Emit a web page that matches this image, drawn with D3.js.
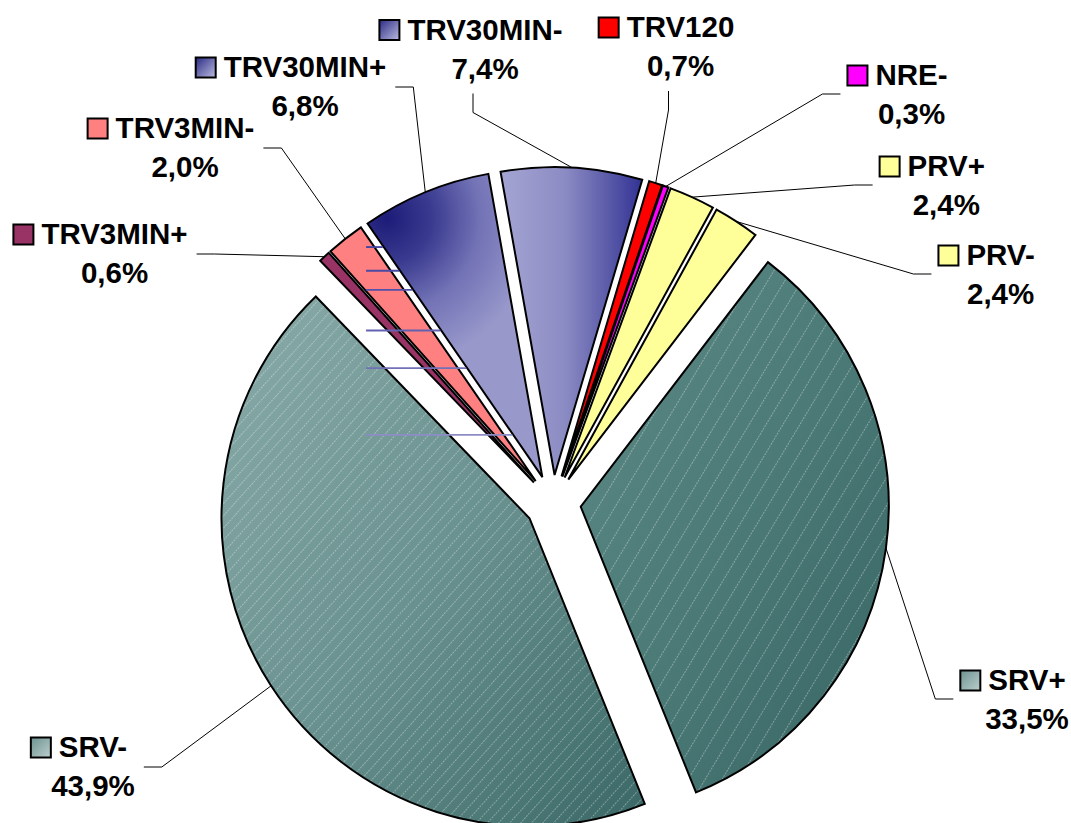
<!DOCTYPE html>
<html><head><meta charset="utf-8">
<script src="https://cdn.jsdelivr.net/npm/d3@7"></script>
<style>html,body{margin:0;padding:0;background:#fff;overflow:hidden}svg{display:block}</style>
</head><body>
<script>
// ---- data ----
const categories = ["TRV30MIN-","TRV120","NRE-","PRV+","PRV-","SRV+","SRV-","TRV3MIN+","TRV3MIN-","TRV30MIN+"];
const values = [7.4,0.7,0.3,2.4,2.4,33.5,43.9,0.6,2.0,6.8];
const valueLabels = ["7,4%","0,7%","0,3%","2,4%","2,4%","33,5%","43,9%","0,6%","2,0%","6,8%"];
// ---- styling / layout ----
const fills = ["url(#gTRVm)","#ff0000","#ff00ff","#ffff99","#ffff99","url(#gSRVp)","url(#gSRVm)","#993366","#ff8080","url(#gTRVp)"];
const keyFills = ["url(#kTRV)","#ff0000","#ff00ff","#ffff99","#ffff99","url(#kSRV)","url(#kSRV)","#993366","#ff8080","url(#kTRV)"];
const hatches = [null,null,null,null,null,"url(#hatchP)","url(#hatchM)",null,null,null];
const labelCx = [485, 680.5, 911.5, 946.3, 1000.6, 1027, 93, 114.5, 185, 305];
const labelBaseline = [39.5, 37, 85, 176, 265, 690, 757, 244, 138, 77];
const leaderSide = ["top","top","right","right","right","right","left","left","left","left"];
const artifactLevels = [-0.831,-0.754,-0.692,-0.560,-0.438,-0.221];

const W = 1071, H = 823;
const C = {x:553, y:503}, R = 308, EXPLODE = 28;
const startA = -10.1 * Math.PI / 180;

const svg = d3.select("body").append("svg").attr("width", W).attr("height", H);
const defs = svg.append("defs");

function lin(id, x1,y1,x2,y2, stops){
  const g = defs.append("linearGradient").attr("id", id)
    .attr("x1",x1).attr("y1",y1).attr("x2",x2).attr("y2",y2);
  stops.forEach(s => g.append("stop").attr("offset", s[0]).attr("stop-color", s[1]));
  return g;
}
lin("gTRVm", 0,0,1,0, [[0,"#a4a4d3"],[0.45,"#8c8cc4"],[0.75,"#5c5caa"],[1,"#323294"]]);
lin("gSRVm", 0,0,1,1, [[0,"#8aacaa"],[0.5,"#6a9290"],[1,"#3a6866"]]);
lin("gSRVp", 0,0,1,1, [[0,"#5e8a86"],[0.5,"#4b7a77"],[1,"#386563"]]);
lin("kTRV", 0,0,1,1, [[0,"#2a2a85"],[1,"#bcbce0"]]);
lin("kSRV", 0,0,1,1, [[0,"#6c9290"],[1,"#bccfce"]]);

function hatch(id, spacing, angle){
  const p = defs.append("pattern").attr("id", id).attr("patternUnits","userSpaceOnUse")
    .attr("width", spacing).attr("height", 6).attr("patternTransform", `rotate(${angle})`);
  p.append("line").attr("x1",0.5).attr("y1",0).attr("x2",0.5).attr("y2",6)
    .attr("stroke","#ffffff").attr("stroke-opacity",0.38).attr("stroke-width",0.9)
    .attr("stroke-dasharray","2 1");
}
hatch("hatchM", 8.2, 42);
hatch("hatchP", 14.5, 31);

// ---- pie ----
const pie = d3.pie().sort(null).value(d => d).startAngle(startA).endAngle(startA + 2*Math.PI);
const arcs = pie(values);
const arc = d3.arc().innerRadius(0).outerRadius(R);
arcs.forEach(a => {
  a.mid = (a.startAngle + a.endAngle) / 2;
  a.ox = C.x + EXPLODE * Math.sin(a.mid);
  a.oy = C.y - EXPLODE * Math.cos(a.mid);
});

// radial gradient for TRV30MIN+ (in the slice's local coordinates)
{
  const ang = 329 * Math.PI / 180;
  const g = defs.append("radialGradient").attr("id","gTRVp").attr("gradientUnits","userSpaceOnUse")
    .attr("cx", 0.98*R*Math.sin(ang)).attr("cy", -0.98*R*Math.cos(ang)).attr("r", 150);
  [[0,"#1c1c78"],[0.3,"#3a3a90"],[0.62,"#7272b6"],[1,"#9898cb"]]
    .forEach(s => g.append("stop").attr("offset", s[0]).attr("stop-color", s[1]));
}

const slices = svg.append("g").selectAll("g").data(arcs).join("g")
  .attr("transform", d => `translate(${d.ox},${d.oy})`);
slices.append("path").attr("d", arc).attr("fill", (d,i) => fills[i]);
slices.filter((d,i) => hatches[i]).append("path").attr("d", arc).attr("fill", (d) => hatches[d.index]);
slices.append("path").attr("d", arc).attr("fill","none")
  .attr("stroke","#000").attr("stroke-width",2).attr("stroke-linejoin","miter");

// thin rendering streaks seen left of TRV30MIN+
{
  const a = arcs[9];
  const dx = Math.sin(a.startAngle), dy = -Math.cos(a.startAngle);
  const col = d3.scaleLinear().domain([artifactLevels[0], artifactLevels[artifactLevels.length-1]])
    .range(["#4040a0","#8c8cc6"]);
  svg.append("g").selectAll("line").data(artifactLevels).join("line")
    .attr("x1", C.x - 0.607*R)
    .attr("y1", d => C.y + d*R).attr("y2", d => C.y + d*R)
    .attr("x2", d => { const y = C.y + d*R; const t = (y - a.oy)/dy; return a.ox + t*dx - 1; })
    .attr("stroke", d => col(d)).attr("stroke-width", 1.8);
}

// ---- labels ----
const FONT = "'Liberation Sans', Arial, sans-serif";
const lab = svg.append("g").attr("font-family", FONT).attr("font-weight","bold").attr("font-size", "29.5px").attr("fill","#000");
const leaders = svg.append("g").attr("fill","none").attr("stroke","#000").attr("stroke-width",1);

arcs.forEach((a, i) => {
  const cx = labelCx[i], by = labelBaseline[i];
  const name = lab.append("text").attr("x", cx).attr("y", by).attr("text-anchor","middle").text(categories[i]);
  const pct = lab.append("text").attr("x", cx).attr("y", by + 39).attr("text-anchor","middle").text(valueLabels[i]);
  const nw = name.node().getComputedTextLength();
  const pw = pct.node().getComputedTextLength();
  const textStart = cx - nw/2;
  lab.append("rect").attr("x", textStart - 28).attr("y", by - 19.5).attr("width", 20).attr("height", 20)
    .attr("fill", keyFills[i]).attr("stroke","#000").attr("stroke-width",2);
  const px = a.ox + R*Math.sin(a.mid), py = a.oy - R*Math.cos(a.mid);
  let pts;
  if (leaderSide[i] === "left") {
    const sx = Math.max(cx + nw/2, cx + pw/2) + 9, sy = by + 10;
    pts = [[sx,sy],[sx+18,sy],[px,py]];
  } else if (leaderSide[i] === "right") {
    const sx = textStart - 28 - 7, sy = by + 9;
    pts = [[sx,sy],[sx-18,sy],[px,py]];
  } else {
    const sx = cx - 12, sy = by + 39 + 15;
    pts = [[sx,sy],[sx,sy+19],[px,py]];
  }
  leaders.append("path").attr("d", d3.line()(pts));
});
</script>
</body></html>
